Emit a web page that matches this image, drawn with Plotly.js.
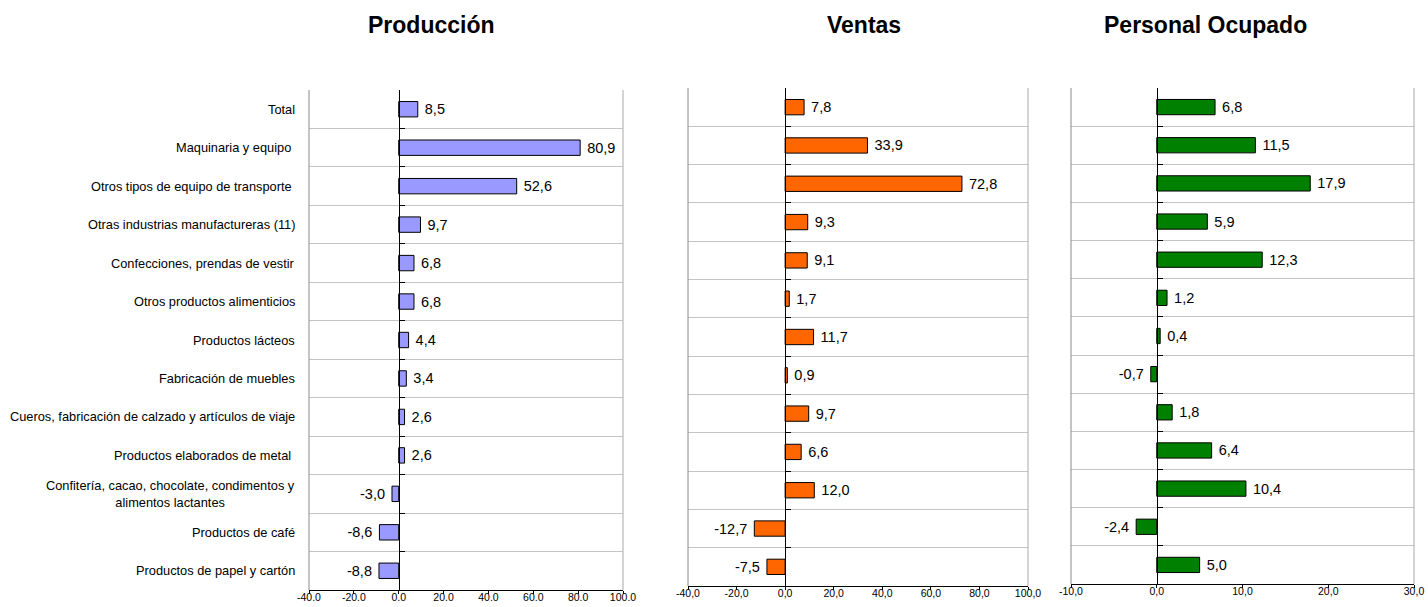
<!DOCTYPE html>
<html>
<head>
<meta charset="utf-8">
<script src="https://cdn.plot.ly/plotly-3.0.1.min.js"></script>
<style>html,body{margin:0;padding:0;background:#fff;}#chart{width:1428px;height:607px;}</style>
</head>
<body>
<div id="chart"></div>
<script>
const categories = [
  "Total",
  "Maquinaria y equipo\u00a0",
  "Otros tipos de equipo de transporte\u00a0",
  "Otras industrias manufactureras (11)",
  "Confecciones, prendas de vestir",
  "Otros productos alimenticios",
  "Productos lácteos",
  "Fabricación de muebles",
  "Cueros, fabricación de calzado y artículos de viaje",
  "Productos elaborados de metal\u00a0",
  "Confitería, cacao, chocolate, condimentos y<br>alimentos lactantes",
  "Productos de café",
  "Productos de papel y cartón"
];
const produccion = [8.5, 80.9, 52.6, 9.7, 6.8, 6.8, 4.4, 3.4, 2.6, 2.6, -3.0, -8.6, -8.8];
const ventas     = [7.8, 33.9, 72.8, 9.3, 9.1, 1.7, 11.7, 0.9, 9.7, 6.6, 12.0, -12.7, -7.5];
const personal   = [6.8, 11.5, 17.9, 5.9, 12.3, 1.2, 0.4, -0.7, 1.8, 6.4, 10.4, -2.4, 5.0];

const titles = ["Producción", "Ventas", "Personal Ocupado"];
const tickVals1 = [-40, -20, 0, 20, 40, 60, 80, 100];
const tickText1 = ["-40.0", "-20.0", "0.0", "20.0", "40.0", "60.0", "80.0", "100.0"];
const tickVals2 = [-40, -20, 0, 20, 40, 60, 80, 100];
const tickText2 = ["-40,0", "-20,0", "0,0", "20,0", "40,0", "60,0", "80,0", "100,0"];
const tickVals3 = [-10, 0, 10, 20, 30];
const tickText3 = ["-10,0", "0,0", "10,0", "20,0", "30,0"];

const W = 1428, H = 607;
const FONT = "Liberation Sans, Arial, sans-serif";
const fmt = v => {
  const s = v.toFixed(1).replace('.', ',');
  return v < 0 ? s + '\u00a0' : '\u00a0' + s;
};

const panels = [
  {vals: produccion, color: '#9999FF', xr: [-40, 100], xd: [309, 623], yd: [90, 590], tv: tickVals1, tt: tickText1, tx: 431},
  {vals: ventas,     color: '#FF6600', xr: [-40, 100], xd: [688, 1028], yd: [88, 586], tv: tickVals2, tt: tickText2, tx: 864},
  {vals: personal,   color: '#008000', xr: [-10, 30],  xd: [1071, 1414], yd: [88, 584], tv: tickVals3, tt: tickText3, tx: 1205}
];

const data = [];
const layout = {
  width: W, height: H,
  margin: {l: 0, r: 0, t: 0, b: 0},
  paper_bgcolor: '#fff', plot_bgcolor: '#fff',
  showlegend: false,
  font: {family: FONT, color: '#000'},
  annotations: [],
  shapes: []
};

panels.forEach((p, k) => {
  const sx = k === 0 ? '' : String(k + 1);
  const xdom = [p.xd[0] / W, p.xd[1] / W];
  const ydom = [(H - p.yd[1]) / H, (H - p.yd[0]) / H];
  data.push({
    type: 'bar', orientation: 'h',
    x: p.vals, y: categories,
    xaxis: 'x' + sx, yaxis: 'y' + sx,
    width: 0.4,
    marker: {color: p.color, line: {color: '#000', width: 1}},
    text: p.vals.map(fmt),
    textposition: 'outside',
    constraintext: 'none',
    cliponaxis: false,
    textfont: {family: FONT, size: 14.5, color: '#000'},
    hoverinfo: 'none'
  });
  const zeroPos = xdom[0] + (0 - p.xr[0]) / (p.xr[1] - p.xr[0]) * (xdom[1] - xdom[0]);
  layout['xaxis' + sx] = {
    domain: xdom, range: p.xr, anchor: 'y' + sx,
    tickvals: p.tv, ticktext: p.tt,
    ticks: 'outside', ticklen: 3, tickcolor: '#000', tickwidth: 1,
    ticklabelstandoff: -6,
    showline: true, linecolor: '#000', linewidth: 1,
    showgrid: false, zeroline: false,
    tickfont: {family: FONT, size: 10.5, color: '#000'}
  };
  layout['yaxis' + sx] = {
    domain: ydom, type: 'category',
    categoryorder: 'array', categoryarray: categories,
    range: [categories.length - 0.5, -0.5],
    anchor: 'free', position: zeroPos,
    showline: true, linecolor: '#000', linewidth: 1,
    tickson: 'boundaries', ticks: 'inside', ticklen: 5, tickcolor: '#000',
    showticklabels: false,
    showgrid: true, gridcolor: '#c4c4c4', gridwidth: 1,
    zeroline: false
  };
  [0, 1].forEach(xx => {
    layout.shapes.push({
      type: 'line', xref: 'x' + sx + ' domain', yref: 'y' + sx + ' domain',
      x0: xx, x1: xx, y0: 0, y1: 1,
      line: {color: xx === 0 ? '#8a8a8a' : '#a8a8a8', width: 1}
    });
  });
  layout.annotations.push({
    xref: 'paper', yref: 'paper', x: p.tx / W, y: (H - 25) / H,
    xanchor: 'center', yanchor: 'middle', showarrow: false,
    text: '<b>' + titles[k] + '</b>',
    font: {family: FONT, size: 23, color: '#000'}
  });
});

categories.forEach((c, i) => {
  layout.annotations.push({
    xref: 'paper', yref: 'y', x: 297 / W, y: i,
    xanchor: 'right', yanchor: 'middle', align: 'center', showarrow: false,
    text: c,
    font: {family: FONT, size: 12.8, color: '#000'}
  });
});

Plotly.newPlot('chart', data, layout, {staticPlot: true, displayModeBar: false});
</script>
</body>
</html>
